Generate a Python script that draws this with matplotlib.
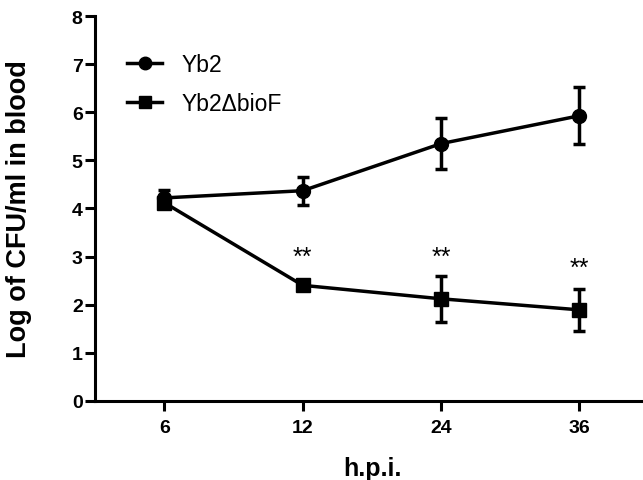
import matplotlib
matplotlib.use('Agg')
import matplotlib.pyplot as plt
from matplotlib.lines import Line2D
import numpy as np

# data
hpi = ['6', '12', '24', '36']
yb2_mean = [4.22, 4.37, 5.35, 5.93]
yb2_err = [0.17, 0.29, 0.53, 0.59]
biof_mean = [4.12, 2.40, 2.12, 1.89]
biof_err = [0.10, 0.08, 0.48, 0.44]
star_y = [3.0, 3.0, 2.76]   # '**' labels at 12, 24, 36 h

plt.rcParams['font.family'] = ['Liberation Sans', 'DejaVu Sans']

fig = plt.figure(figsize=(6.43, 4.81), dpi=100)
ax = fig.add_axes([0.148, 0.165, 0.852, 0.799])

x = np.arange(len(hpi))
style = dict(color='black', markersize=10, linewidth=2.5, elinewidth=2.5,
             capsize=4.5, capthick=2.5)
ax.errorbar(x, yb2_mean, yerr=yb2_err, marker='o', **style)
ax.errorbar(x, biof_mean, yerr=biof_err, marker='s', **style)

for xi, yi in zip(x[1:], star_y):
    ax.text(xi, yi, '**', ha='center', va='center', fontsize=18)

ax.set_xlim(-0.5, 3.46)
ax.set_ylim(0, 8)
ax.set_xticks(x)
ax.set_xticklabels(hpi)
ax.set_yticks(range(0, 9))

ax.spines['top'].set_visible(False)
ax.spines['right'].set_visible(False)
for s in ['left', 'bottom']:
    ax.spines[s].set_linewidth(2.2)
ax.tick_params(axis='both', direction='out', length=7, width=2.2, labelsize=14)
ax.tick_params(axis='x', pad=6)
ax.tick_params(axis='y', pad=2)
for lab in ax.get_xticklabels() + ax.get_yticklabels():
    lab.set_fontweight('bold')

ax.set_xlabel('h.p.i.', fontsize=18, fontweight='bold')
ax.set_ylabel('Log of CFU/ml in blood', fontsize=19.5, fontweight='bold')
ax.xaxis.set_label_coords(0.507, -0.143)
ax.yaxis.set_label_coords(-0.115, 0.5)

handles = [Line2D([], [], color='black', marker='o', markersize=9, linewidth=2.5),
           Line2D([], [], color='black', marker='s', markersize=9, linewidth=2.5)]
ax.legend(handles, ['Yb2', 'Yb2ΔbioF'], loc='upper left',
          bbox_to_anchor=(0.058, 0.905), borderaxespad=0, borderpad=0,
          frameon=False, fontsize=16.5, handlelength=1.55, handletextpad=0.85,
          labelspacing=0.7)

fig.savefig('out.png', dpi=100)
